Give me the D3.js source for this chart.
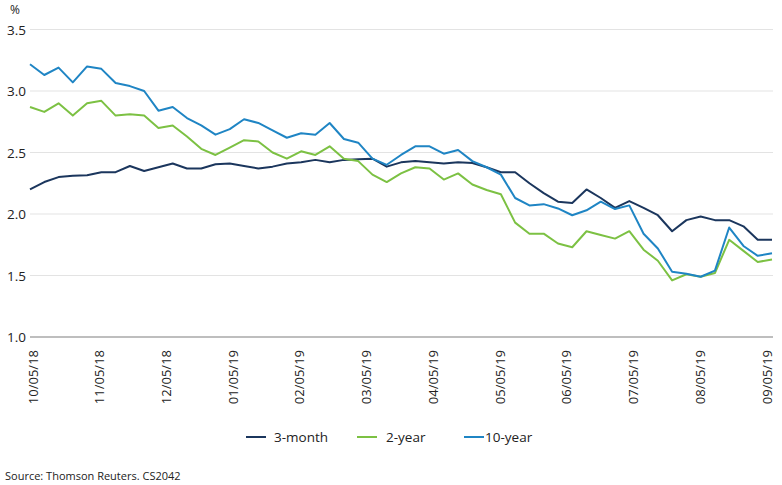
<!DOCTYPE html>
<html lang="en">
<head>
  <meta charset="UTF-8">
  <title>Yields</title>
  <script src="https://d3js.org/d3.v7.min.js"></script>
  <style>
    body { margin: 0; background: #fff; font-family: "Open Sans", sans-serif; }
    svg text { fill: #222; }
  </style>
</head>
<body>
  <svg width="782" height="485"></svg>

  <script>
    const monthLabels = ['10/05/18', '11/05/18', '12/05/18', '01/05/19', '02/05/19', '03/05/19',
      '04/05/19', '05/05/19', '06/05/19', '07/05/19', '08/05/19', '09/05/19'];

    const yTicks = [1.0, 1.5, 2.0, 2.5, 3.0, 3.5];

    // weekly observations
    const threeMonth = [2.20, 2.26, 2.30, 2.31, 2.315, 2.34, 2.34, 2.39, 2.35, 2.38, 2.41, 2.37, 2.37,
      2.405, 2.41, 2.39, 2.37, 2.385, 2.41, 2.42, 2.44, 2.42, 2.44, 2.445, 2.45, 2.385, 2.42, 2.43,
      2.42, 2.41, 2.42, 2.415, 2.38, 2.34, 2.34, 2.25, 2.17, 2.10, 2.09, 2.20, 2.13, 2.05, 2.105,
      2.05, 1.99, 1.86, 1.95, 1.98, 1.95, 1.95, 1.90, 1.79, 1.79];

    const twoYear = [2.87, 2.83, 2.90, 2.80, 2.90, 2.92, 2.80, 2.81, 2.80, 2.70, 2.72, 2.63, 2.53,
      2.48, 2.54, 2.60, 2.59, 2.50, 2.45, 2.51, 2.48, 2.55, 2.45, 2.43, 2.32, 2.26, 2.33, 2.38,
      2.37, 2.28, 2.33, 2.24, 2.195, 2.16, 1.93, 1.84, 1.84, 1.76, 1.73, 1.86, 1.83, 1.80, 1.86,
      1.71, 1.62, 1.46, 1.51, 1.49, 1.52, 1.79, 1.70, 1.61, 1.63];

    const tenYear = [3.217, 3.13, 3.19, 3.07, 3.20, 3.18, 3.065, 3.04, 3.00, 2.84, 2.87, 2.78, 2.72,
      2.645, 2.69, 2.77, 2.74, 2.68, 2.62, 2.656, 2.645, 2.74, 2.61, 2.58, 2.45, 2.40, 2.48, 2.55,
      2.55, 2.49, 2.52, 2.43, 2.38, 2.32, 2.13, 2.07, 2.08, 2.045, 1.99, 2.03, 2.10, 2.04, 2.07,
      1.84, 1.72, 1.53, 1.515, 1.49, 1.54, 1.89, 1.74, 1.66, 1.68];

    const seriesNames = ['3-month', '2-year', '10-year'];
    const colors = ['#1b365d', '#7cc143', '#1f85c4'];
    const series = [threeMonth, twoYear, tenYear];

    const svg = d3.select('svg');
    const left = 30, right = 773;

    const x = d3.scaleLinear().domain([0, tenYear.length - 1]).range([left, 772]);
    const xLab = d3.scalePoint().domain(monthLabels).range([33, 767]);
    const y = d3.scaleLinear().domain([1, 3.5]).range([337, 29.5]);

    // grid
    svg.append('g')
      .selectAll('line')
      .data(yTicks)
      .join('line')
      .attr('x1', left)
      .attr('x2', right)
      .attr('y1', d => y(d))
      .attr('y2', d => y(d))
      .attr('stroke', d => d === 1 ? '#a8a8a8' : '#e3e3e3')
      .attr('stroke-width', d => d === 1 ? 1.5 : 1);

    svg.append('g')
      .selectAll('text')
      .data(yTicks)
      .join('text')
      .attr('x', 26)
      .attr('y', d => y(d) + 5)
      .attr('text-anchor', 'end')
      .style('font-size', '13.5px')
      .text(d => d.toFixed(1));

    svg.append('text')
      .attr('x', 10)
      .attr('y', 14)
      .style('font-size', '12px')
      .text('%');

    // x labels
    svg.append('g')
      .selectAll('text')
      .data(monthLabels)
      .join('text')
      .attr('transform', d => `translate(${xLab(d) + 4.5},350) rotate(-90)`)
      .attr('text-anchor', 'end')
      .style('font-size', '13px')
      .text(d => d);

    // lines
    const line = d3.line()
      .x((d, i) => x(i))
      .y(d => y(d));

    svg.append('g')
      .selectAll('path')
      .data(series)
      .join('path')
      .attr('d', d => line(d))
      .attr('fill', 'none')
      .attr('stroke', (d, i) => colors[i])
      .attr('stroke-width', 2)
      .attr('stroke-linejoin', 'round');

    // legend
    const legendX = [246, 357, 464];
    const legendGap = [8, 9, 1];
    const lg = svg.append('g')
      .selectAll('g')
      .data(seriesNames)
      .join('g')
      .attr('transform', (d, i) => `translate(${legendX[i]},437)`);

    lg.append('line')
      .attr('x1', 0)
      .attr('x2', 20)
      .attr('stroke', (d, i) => colors[i])
      .attr('stroke-width', 2);

    lg.append('text')
      .attr('x', (d, i) => 20 + legendGap[i])
      .attr('y', 5)
      .style('font-size', '13.5px')
      .text(d => d);

    svg.append('text')
      .attr('x', 5)
      .attr('y', 480)
      .style('font-size', '11px')
      .text('Source: Thomson Reuters. CS2042');
  </script>
</body>
</html>
